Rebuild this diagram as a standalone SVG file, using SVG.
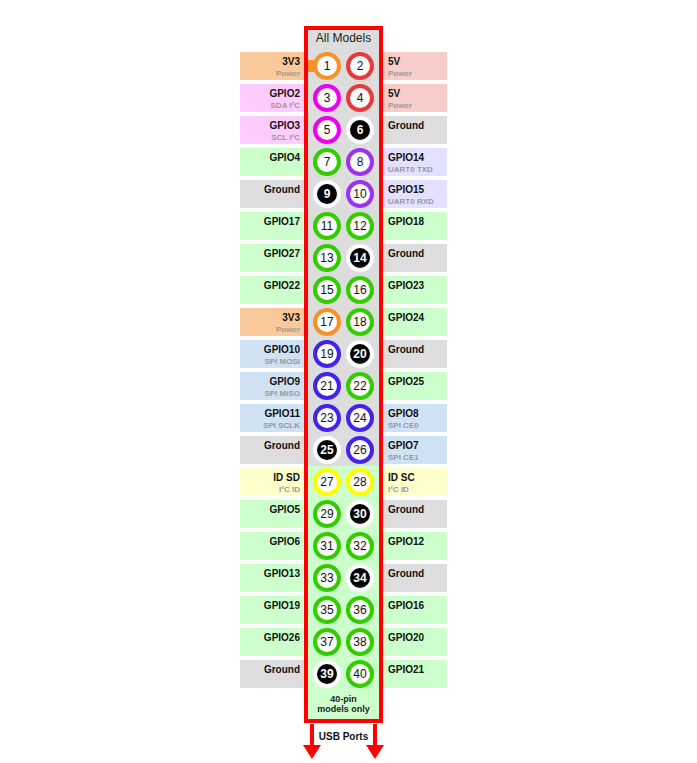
<svg xmlns="http://www.w3.org/2000/svg" width="697" height="763" viewBox="0 0 697 763">
<style>
.b{stroke:none}
.pw{fill:#fac99b}.v5{fill:#f9cccc}.i2{fill:#ffccff}.gd{fill:#dddddd}.gp{fill:#ccffcc}.ua{fill:#e4e0ff}.sp{fill:#cfe2f3}.id{fill:#ffffcc}
.r{fill:#fff;stroke-width:4}
.ro{stroke:#f7922a}.rr{stroke:#e8393c}.rm{stroke:#ee00ee}.rg{stroke:#33cc00}.rp{stroke:#9933ee}.rs{stroke:#4422ee}.ry{stroke:#ffff00}
.rk{fill:#000;stroke:#fff;stroke-width:4}
text{font-family:"Liberation Sans",Arial,sans-serif}
.n{font-size:12px;text-anchor:middle;fill:#111}
.nk{font-size:12px;text-anchor:middle;fill:#fff;font-weight:bold}
.lab{font-size:10px;font-weight:bold;fill:#111}
.sub{font-size:8px;font-weight:bold;fill:#999}
.l{text-anchor:end}
.t{font-size:12px;text-anchor:middle;fill:#222}
.t2{font-size:9px;font-weight:bold;text-anchor:middle;fill:#222}
.arr{fill:#ff0000}
</style>
<rect x="0" y="0" width="697" height="763" fill="#ffffff"/>
<g id="header">
<rect x="306" y="28" width="75" height="438" fill="#dddddd"/>
<rect x="306" y="466" width="75" height="255" fill="#ccffcc"/>
<text class="t" x="343.5" y="42">All Models</text>
<text class="t2" x="343.5" y="702">40-pin</text>
<text class="t2" x="343.5" y="712">models only</text>
</g>
<g id="pin-1"><rect class="b pw" x="240" y="52" width="64" height="28"/><text class="lab l" x="300" y="65">3V3</text><text class="sub l" x="300" y="76">Power</text><rect x="308" y="60" width="12" height="12" fill="#f7922a"/><circle class="r ro" cx="327" cy="66" r="12"/><text class="n" x="327" y="70">1</text></g>
<g id="pin-2"><rect class="b v5" x="383" y="52" width="64" height="28"/><text class="lab" x="388" y="65">5V</text><text class="sub" x="388" y="76">Power</text><circle class="r rr" cx="360" cy="66" r="12"/><text class="n" x="360" y="70">2</text></g>
<g id="pin-3" transform="translate(0,32)"><rect class="b i2" x="240" y="52" width="64" height="28"/><text class="lab l" x="300" y="65">GPIO2</text><text class="sub l" x="300" y="76">SDA I²C</text><circle class="r rm" cx="327" cy="66" r="12"/><text class="n" x="327" y="70">3</text></g>
<g id="pin-4" transform="translate(0,32)"><rect class="b v5" x="383" y="52" width="64" height="28"/><text class="lab" x="388" y="65">5V</text><text class="sub" x="388" y="76">Power</text><circle class="r rr" cx="360" cy="66" r="12"/><text class="n" x="360" y="70">4</text></g>
<g id="pin-5" transform="translate(0,64)"><rect class="b i2" x="240" y="52" width="64" height="28"/><text class="lab l" x="300" y="65">GPIO3</text><text class="sub l" x="300" y="76">SCL I²C</text><circle class="r rm" cx="327" cy="66" r="12"/><text class="n" x="327" y="70">5</text></g>
<g id="pin-6" transform="translate(0,64)"><rect class="b gd" x="383" y="52" width="64" height="28"/><text class="lab" x="388" y="65">Ground</text><circle class="rk" cx="360" cy="66" r="12"/><text class="nk" x="360" y="70">6</text></g>
<g id="pin-7" transform="translate(0,96)"><rect class="b gp" x="240" y="52" width="64" height="28"/><text class="lab l" x="300" y="65">GPIO4</text><circle class="r rg" cx="327" cy="66" r="12"/><text class="n" x="327" y="70">7</text></g>
<g id="pin-8" transform="translate(0,96)"><rect class="b ua" x="383" y="52" width="64" height="28"/><text class="lab" x="388" y="65">GPIO14</text><text class="sub" x="388" y="76">UART0 TXD</text><circle class="r rp" cx="360" cy="66" r="12"/><text class="n" x="360" y="70">8</text></g>
<g id="pin-9" transform="translate(0,128)"><rect class="b gd" x="240" y="52" width="64" height="28"/><text class="lab l" x="300" y="65">Ground</text><circle class="rk" cx="327" cy="66" r="12"/><text class="nk" x="327" y="70">9</text></g>
<g id="pin-10" transform="translate(0,128)"><rect class="b ua" x="383" y="52" width="64" height="28"/><text class="lab" x="388" y="65">GPIO15</text><text class="sub" x="388" y="76">UART0 RXD</text><circle class="r rp" cx="360" cy="66" r="12"/><text class="n" x="360" y="70">10</text></g>
<g id="pin-11" transform="translate(0,160)"><rect class="b gp" x="240" y="52" width="64" height="28"/><text class="lab l" x="300" y="65">GPIO17</text><circle class="r rg" cx="327" cy="66" r="12"/><text class="n" x="327" y="70">11</text></g>
<g id="pin-12" transform="translate(0,160)"><rect class="b gp" x="383" y="52" width="64" height="28"/><text class="lab" x="388" y="65">GPIO18</text><circle class="r rg" cx="360" cy="66" r="12"/><text class="n" x="360" y="70">12</text></g>
<g id="pin-13" transform="translate(0,192)"><rect class="b gp" x="240" y="52" width="64" height="28"/><text class="lab l" x="300" y="65">GPIO27</text><circle class="r rg" cx="327" cy="66" r="12"/><text class="n" x="327" y="70">13</text></g>
<g id="pin-14" transform="translate(0,192)"><rect class="b gd" x="383" y="52" width="64" height="28"/><text class="lab" x="388" y="65">Ground</text><circle class="rk" cx="360" cy="66" r="12"/><text class="nk" x="360" y="70">14</text></g>
<g id="pin-15" transform="translate(0,224)"><rect class="b gp" x="240" y="52" width="64" height="28"/><text class="lab l" x="300" y="65">GPIO22</text><circle class="r rg" cx="327" cy="66" r="12"/><text class="n" x="327" y="70">15</text></g>
<g id="pin-16" transform="translate(0,224)"><rect class="b gp" x="383" y="52" width="64" height="28"/><text class="lab" x="388" y="65">GPIO23</text><circle class="r rg" cx="360" cy="66" r="12"/><text class="n" x="360" y="70">16</text></g>
<g id="pin-17" transform="translate(0,256)"><rect class="b pw" x="240" y="52" width="64" height="28"/><text class="lab l" x="300" y="65">3V3</text><text class="sub l" x="300" y="76">Power</text><circle class="r ro" cx="327" cy="66" r="12"/><text class="n" x="327" y="70">17</text></g>
<g id="pin-18" transform="translate(0,256)"><rect class="b gp" x="383" y="52" width="64" height="28"/><text class="lab" x="388" y="65">GPIO24</text><circle class="r rg" cx="360" cy="66" r="12"/><text class="n" x="360" y="70">18</text></g>
<g id="pin-19" transform="translate(0,288)"><rect class="b sp" x="240" y="52" width="64" height="28"/><text class="lab l" x="300" y="65">GPIO10</text><text class="sub l" x="300" y="76">SPI MOSI</text><circle class="r rs" cx="327" cy="66" r="12"/><text class="n" x="327" y="70">19</text></g>
<g id="pin-20" transform="translate(0,288)"><rect class="b gd" x="383" y="52" width="64" height="28"/><text class="lab" x="388" y="65">Ground</text><circle class="rk" cx="360" cy="66" r="12"/><text class="nk" x="360" y="70">20</text></g>
<g id="pin-21" transform="translate(0,320)"><rect class="b sp" x="240" y="52" width="64" height="28"/><text class="lab l" x="300" y="65">GPIO9</text><text class="sub l" x="300" y="76">SPI MISO</text><circle class="r rs" cx="327" cy="66" r="12"/><text class="n" x="327" y="70">21</text></g>
<g id="pin-22" transform="translate(0,320)"><rect class="b gp" x="383" y="52" width="64" height="28"/><text class="lab" x="388" y="65">GPIO25</text><circle class="r rg" cx="360" cy="66" r="12"/><text class="n" x="360" y="70">22</text></g>
<g id="pin-23" transform="translate(0,352)"><rect class="b sp" x="240" y="52" width="64" height="28"/><text class="lab l" x="300" y="65">GPIO11</text><text class="sub l" x="300" y="76">SPI SCLK</text><circle class="r rs" cx="327" cy="66" r="12"/><text class="n" x="327" y="70">23</text></g>
<g id="pin-24" transform="translate(0,352)"><rect class="b sp" x="383" y="52" width="64" height="28"/><text class="lab" x="388" y="65">GPIO8</text><text class="sub" x="388" y="76">SPI CE0</text><circle class="r rs" cx="360" cy="66" r="12"/><text class="n" x="360" y="70">24</text></g>
<g id="pin-25" transform="translate(0,384)"><rect class="b gd" x="240" y="52" width="64" height="28"/><text class="lab l" x="300" y="65">Ground</text><circle class="rk" cx="327" cy="66" r="12"/><text class="nk" x="327" y="70">25</text></g>
<g id="pin-26" transform="translate(0,384)"><rect class="b sp" x="383" y="52" width="64" height="28"/><text class="lab" x="388" y="65">GPIO7</text><text class="sub" x="388" y="76">SPI CE1</text><circle class="r rs" cx="360" cy="66" r="12"/><text class="n" x="360" y="70">26</text></g>
<g id="pin-27" transform="translate(0,416)"><rect class="b id" x="240" y="52" width="64" height="28"/><text class="lab l" x="300" y="65">ID SD</text><text class="sub l" x="300" y="76">I²C ID</text><circle class="r ry" cx="327" cy="66" r="12"/><text class="n" x="327" y="70">27</text></g>
<g id="pin-28" transform="translate(0,416)"><rect class="b id" x="383" y="52" width="64" height="28"/><text class="lab" x="388" y="65">ID SC</text><text class="sub" x="388" y="76">I²C ID</text><circle class="r ry" cx="360" cy="66" r="12"/><text class="n" x="360" y="70">28</text></g>
<g id="pin-29" transform="translate(0,448)"><rect class="b gp" x="240" y="52" width="64" height="28"/><text class="lab l" x="300" y="65">GPIO5</text><circle class="r rg" cx="327" cy="66" r="12"/><text class="n" x="327" y="70">29</text></g>
<g id="pin-30" transform="translate(0,448)"><rect class="b gd" x="383" y="52" width="64" height="28"/><text class="lab" x="388" y="65">Ground</text><circle class="rk" cx="360" cy="66" r="12"/><text class="nk" x="360" y="70">30</text></g>
<g id="pin-31" transform="translate(0,480)"><rect class="b gp" x="240" y="52" width="64" height="28"/><text class="lab l" x="300" y="65">GPIO6</text><circle class="r rg" cx="327" cy="66" r="12"/><text class="n" x="327" y="70">31</text></g>
<g id="pin-32" transform="translate(0,480)"><rect class="b gp" x="383" y="52" width="64" height="28"/><text class="lab" x="388" y="65">GPIO12</text><circle class="r rg" cx="360" cy="66" r="12"/><text class="n" x="360" y="70">32</text></g>
<g id="pin-33" transform="translate(0,512)"><rect class="b gp" x="240" y="52" width="64" height="28"/><text class="lab l" x="300" y="65">GPIO13</text><circle class="r rg" cx="327" cy="66" r="12"/><text class="n" x="327" y="70">33</text></g>
<g id="pin-34" transform="translate(0,512)"><rect class="b gd" x="383" y="52" width="64" height="28"/><text class="lab" x="388" y="65">Ground</text><circle class="rk" cx="360" cy="66" r="12"/><text class="nk" x="360" y="70">34</text></g>
<g id="pin-35" transform="translate(0,544)"><rect class="b gp" x="240" y="52" width="64" height="28"/><text class="lab l" x="300" y="65">GPIO19</text><circle class="r rg" cx="327" cy="66" r="12"/><text class="n" x="327" y="70">35</text></g>
<g id="pin-36" transform="translate(0,544)"><rect class="b gp" x="383" y="52" width="64" height="28"/><text class="lab" x="388" y="65">GPIO16</text><circle class="r rg" cx="360" cy="66" r="12"/><text class="n" x="360" y="70">36</text></g>
<g id="pin-37" transform="translate(0,576)"><rect class="b gp" x="240" y="52" width="64" height="28"/><text class="lab l" x="300" y="65">GPIO26</text><circle class="r rg" cx="327" cy="66" r="12"/><text class="n" x="327" y="70">37</text></g>
<g id="pin-38" transform="translate(0,576)"><rect class="b gp" x="383" y="52" width="64" height="28"/><text class="lab" x="388" y="65">GPIO20</text><circle class="r rg" cx="360" cy="66" r="12"/><text class="n" x="360" y="70">38</text></g>
<g id="pin-39" transform="translate(0,608)"><rect class="b gd" x="240" y="52" width="64" height="28"/><text class="lab l" x="300" y="65">Ground</text><circle class="rk" cx="327" cy="66" r="12"/><text class="nk" x="327" y="70">39</text></g>
<g id="pin-40" transform="translate(0,608)"><rect class="b gp" x="383" y="52" width="64" height="28"/><text class="lab" x="388" y="65">GPIO21</text><circle class="r rg" cx="360" cy="66" r="12"/><text class="n" x="360" y="70">40</text></g>
<g id="frame"><rect x="306" y="28" width="75" height="693" fill="none" stroke="#ff0000" stroke-width="4"/></g>
<g id="connectors">
<rect class="arr" x="310" y="724" width="4" height="22"/><polygon class="arr" points="303,745 321,745 312,759"/>
<rect class="arr" x="373" y="724" width="4" height="22"/><polygon class="arr" points="366,745 384,745 375,759"/>
<text class="lab" x="343.5" y="740" text-anchor="middle">USB Ports</text>
</g>
</svg>
